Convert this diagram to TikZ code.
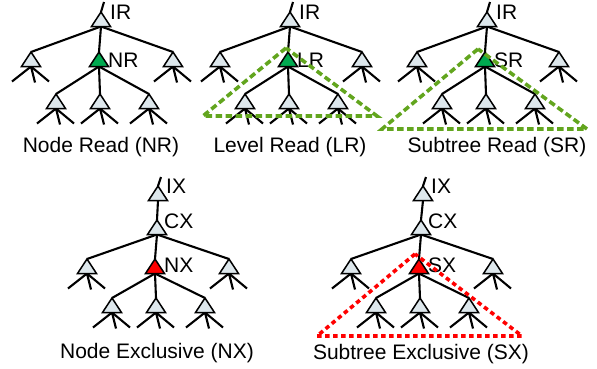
\documentclass[tikz,border=0pt]{standalone}
\usepackage{fontspec}
\setmainfont{Liberation Sans}
\usetikzlibrary{calc,backgrounds}
\definecolor{trifill}{RGB}{221,231,236}
\definecolor{readgreen}{RGB}{0,170,80}
\definecolor{scopegreen}{RGB}{98,165,30}
\definecolor{xred}{RGB}{255,0,0}
\tikzset{
  tri/.style={draw=black, line width=1.5pt, fill=trifill},
  readnode/.style={fill=readgreen},
  xnode/.style={fill=xred},
  edge/.style={draw=black, line width=2.1pt},
  lbl/.style={font=\fontsize{21}{25}\selectfont, anchor=base west, inner sep=0pt},
  caption/.style={font=\fontsize{21}{25}\selectfont, anchor=base, inner sep=0pt},
  readscope/.style={draw=scopegreen, line width=3.6pt, dash pattern=on 6.5pt off 3.5pt},
  xscope/.style={draw=xred, line width=3.6pt, dash pattern=on 4.5pt off 3.5pt},
}
% A lock-tree node: apex coordinate #2 at position #3, base centre #2-base
\newcommand\lknode[3][]{%
  \coordinate (#2) at (#3);
  \coordinate (#2-base) at ($(#2)+(0,14.5)$);
  \draw[tri,#1] (#2) -- ++(-9.5,14.5) -- ++(19,0) -- cycle;
}
% #1 prefix, #2 parent node, #3 x of parent apex, #4 y of children apexes,
% #5 y of grandchildren apexes, #6 style of the middle (locked) child
\newcommand\lkfamily[6]{%
  \lknode{#1a}{{#3-70},#4}
  \lknode[#6]{#1b}{{#3-2},#4}
  \lknode{#1c}{{#3+72},#4}
  \lknode{#1d}{{#3-45},#5}
  \lknode{#1e}{{#3-1},#5}
  \lknode{#1f}{{#3+48},#5}
  \begin{pgfonlayer}{background}
    \foreach \c in {a,b,c} \draw[edge] (#2-base) -- (#1\c);
    \foreach \c in {d,e,f} \draw[edge] (#1b-base) -- (#1\c);
    \foreach \c in {a,c,d,e,f}
      \draw[edge] (#1\c-base) -- ++(-19,15)
                  (#1\c-base) -- ++(4,16)
                  (#1\c-base) -- ++(18,15);
  \end{pgfonlayer}
}
\begin{document}
\begin{tikzpicture}[x=1pt,y=-1pt]
\useasboundingbox (0,0) rectangle (597,368);

% ---- Node Read ----
\lknode{ar}{101,12}
\draw[edge] (ar) -- ++(3,-10);
\node[lbl] at (110,19) {IR};
\lkfamily{a}{ar}{101}{52}{94}{readnode}
\node[lbl] at (108,67) {NR};
\node[caption] at (101,152) {Node Read (NR)};

% ---- Level Read ----
\lknode{br}{290,12}
\draw[edge] (br) -- ++(3,-10);
\node[lbl] at (299,19) {IR};
\lkfamily{b}{br}{290}{52}{94}{readnode}
\node[lbl] at (297,67) {LR};
\draw[readscope] (286,48) -- (203,116) -- (377,116) -- cycle;
\node[caption] at (290,152) {Level Read (LR)};

% ---- Subtree Read ----
\lknode{cr}{487,12}
\draw[edge] (cr) -- ++(3,-10);
\node[lbl] at (496,19) {IR};
\lkfamily{c}{cr}{487}{52}{94}{readnode}
\node[lbl] at (494,67) {SR};
\draw[readscope] (478,49) -- (382,129) -- (587,129) -- cycle;
\node[caption] at (497,152) {Subtree Read (SR)};

% ---- Node Exclusive ----
\lknode{dr}{158,186}
\draw[edge] (dr) -- ++(3,-9);
\node[lbl] at (166,193) {IX};
\lknode{dk}{157,220}
\node[lbl] at (164,228) {CX};
\begin{pgfonlayer}{background}
  \draw[edge] (dr-base) -- (dk);
\end{pgfonlayer}
\lkfamily{d}{dk}{157}{259}{298}{xnode}
\node[lbl] at (164,272) {NX};
\node[caption] at (157,358) {Node Exclusive (NX)};

% ---- Subtree Exclusive ----
\lknode{er}{423,186}
\draw[edge] (er) -- ++(3,-9);
\node[lbl] at (431,193) {IX};
\lknode{ek}{421,220}
\node[lbl] at (428,228) {CX};
\begin{pgfonlayer}{background}
  \draw[edge] (er-base) -- (ek);
\end{pgfonlayer}
\lkfamily{e}{ek}{421}{259}{298}{xnode}
\node[lbl] at (428,272) {SX};
\draw[xscope] (415,254) -- (317,336) -- (522,336) -- cycle;
\node[caption] at (421,359) {Subtree Exclusive (SX)};
\end{tikzpicture}
\end{document}
